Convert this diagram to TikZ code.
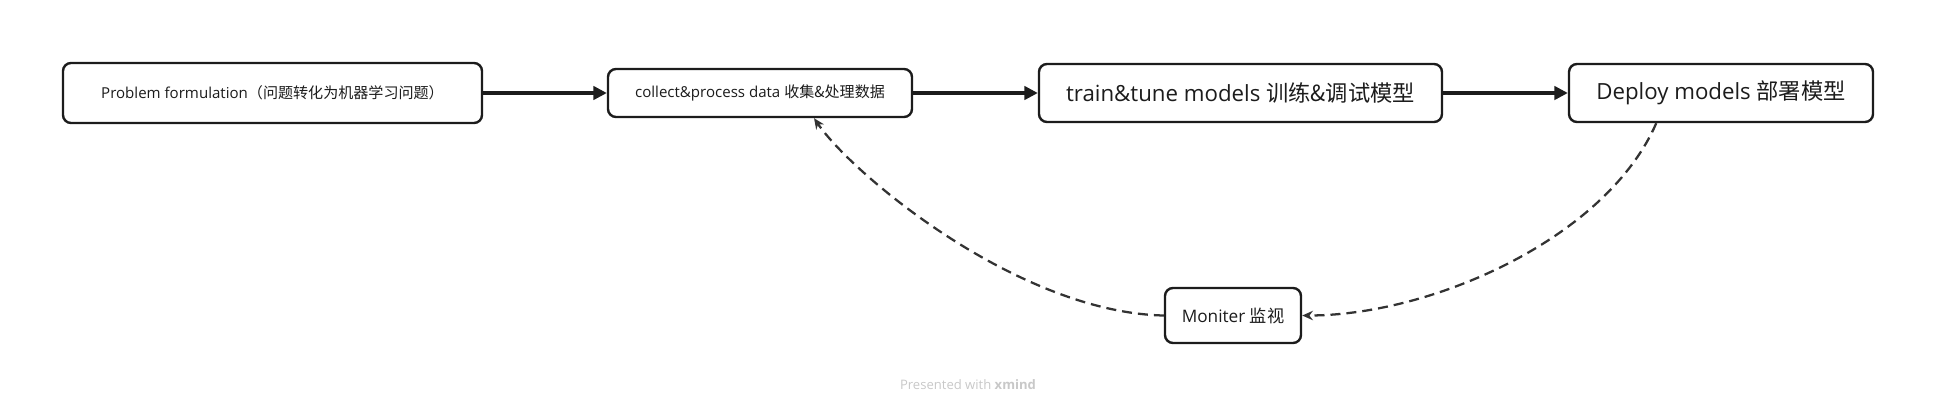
\documentclass[tikz,border=0pt]{standalone}
\usepackage{fontspec}
\setmainfont{Open Sans}
\newfontfamily\cjk{Noto Sans CJK SC}
\usetikzlibrary{arrows.meta}
\definecolor{inkbox}{HTML}{1C1C1C}
\definecolor{inkdash}{HTML}{333333}
\definecolor{inkfoot}{HTML}{C8C8C8}

\begin{document}
\begin{tikzpicture}[x=0.75pt,y=-0.75pt,
		stage/.style={draw=inkbox,line width=1.8pt,rounded corners=6pt,fill=white,text=inkbox,inner sep=0pt},
		small/.style={font=\fontsize{11.3}{13}\selectfont},
		large/.style={font=\fontsize{16.7}{19}\selectfont},
		flow/.style={draw=inkbox,line width=2.3pt,-{Triangle[length=10pt,width=10pt]}},
		loopback/.style={draw=inkdash,line width=1.7pt,dash pattern=on 7.5pt off 4.5pt,-{Stealth[length=8pt,width=7pt]}}]
	
	% Canvas
	\useasboundingbox (0,0) rectangle (1937,408);
	
	% Pipeline stages
	\node[stage,small,minimum width=314.25pt,minimum height=45pt] (prob) at (272.5,93) {Problem formulation{\cjk （问题转化为机器学习问题）}};
	\node[stage,small,minimum width=228pt,minimum height=36pt] (data) at (760,93) {collect\&process data {\cjk 收集\&处理数据}};
	\node[stage,large,minimum width=302.25pt,minimum height=43.5pt] (train) at (1240.5,93) {train\&tune models {\cjk 训练\&调试模型}};
	\node[stage,large,minimum width=228pt,minimum height=43.5pt] (deploy) at (1721,93) {Deploy models {\cjk 部署模型}};
	\node[stage,font=\fontsize{12.9}{15}\selectfont,minimum width=102pt,minimum height=41.25pt] (mon) at (1233,315.5) {Moniter {\cjk 监视}};
	
	% Forward arrows
	\draw[flow] (prob) -- (data);
	\draw[flow] (data) -- (train);
	\draw[flow] (train) -- (deploy);
	
	% Feedback loop
	\draw[loopback] (deploy.-155) .. controls +(-50,115) and +(130,0) .. (mon.east);
	\draw[loopback] (mon.west) .. controls +(-145,-3) and +(39,57) .. (data.-25);
	
	% Footer
	\node[text=inkfoot,font=\fontsize{9.8}{12}\selectfont] (footer) at (968,385) {Presented with \textbf{xmind}};
\end{tikzpicture}
\end{document}
